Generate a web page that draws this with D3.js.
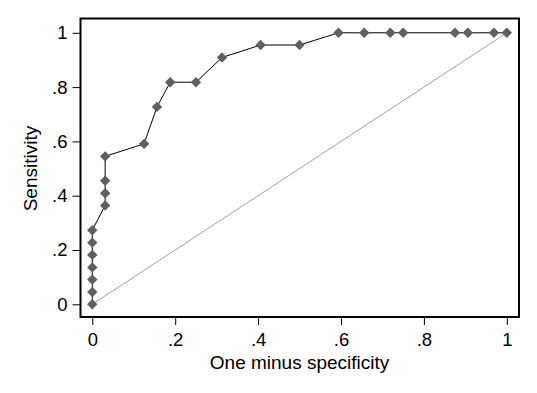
<!DOCTYPE html>
<html>
<head>
<meta charset="utf-8">
<script src="https://cdn.jsdelivr.net/npm/d3@7"></script>
<style>
  html, body { margin: 0; padding: 0; background: #fff; }
  text { font-family: "Liberation Sans", Arial, sans-serif; fill: #000; }
</style>
</head>
<body>
<svg id="chart" width="537" height="393"></svg>
<script>
// ROC points: one minus specificity vs sensitivity
const fpr = [0, 0, 0, 0, 0, 0, 0, 0.031, 0.031, 0.031, 0.031, 0.125, 0.156, 0.188, 0.25, 0.313,
  0.406, 0.5, 0.594, 0.656, 0.719, 0.75, 0.875, 0.906, 0.969, 1];
const tpr = [0, 0.045, 0.091, 0.136, 0.182, 0.227, 0.273, 0.364, 0.409, 0.455, 0.545, 0.591, 0.727,
  0.818, 0.818, 0.909, 0.955, 0.955, 1, 1, 1, 1, 1, 1, 1, 1];

const tickValues = [0, 0.2, 0.4, 0.6, 0.8, 1];
const tickLabels = ["0", ".2", ".4", ".6", ".8", "1"];

const svg = d3.select("#chart");
const frame = { left: 80.5, top: 18.5, right: 519, bottom: 317 };

const x = d3.scaleLinear().domain([0, 1]).range([92.3, 506.8]);
const y = d3.scaleLinear().domain([0, 1]).range([304.3, 32.8]);

const fmt = (d, i) => tickLabels[i];

// axes sit on the frame edges
svg.append("g")
  .attr("transform", `translate(${frame.left},0)`)
  .call(d3.axisLeft(y).tickValues(tickValues).tickFormat(fmt).tickSize(8).tickPadding(5))
  .call(g => g.select(".domain").remove())
  .call(g => g.selectAll("line").attr("stroke", "#000"))
  .selectAll("text")
  .attr("font-size", "18.5px")
  .attr("font-family", "Liberation Sans, Arial, sans-serif")
  .attr("fill", "#000");

svg.append("g")
  .attr("transform", `translate(0,${frame.bottom})`)
  .call(d3.axisBottom(x).tickValues(tickValues).tickFormat(fmt).tickSize(8).tickPadding(8))
  .call(g => g.select(".domain").remove())
  .call(g => g.selectAll("line").attr("stroke", "#000"))
  .selectAll("text")
  .attr("font-size", "18.5px")
  .attr("font-family", "Liberation Sans, Arial, sans-serif")
  .attr("fill", "#000");

svg.append("rect")
  .attr("x", frame.left)
  .attr("y", frame.top)
  .attr("width", frame.right - frame.left)
  .attr("height", frame.bottom - frame.top)
  .attr("fill", "none")
  .attr("stroke", "#000")
  .attr("stroke-width", 2);

// chance diagonal
svg.append("line")
  .attr("x1", x(0)).attr("y1", y(0))
  .attr("x2", x(1)).attr("y2", y(1))
  .attr("stroke", "#a0a0a0")
  .attr("stroke-width", 1);

const pts = fpr.map((d, i) => [d, tpr[i]]);

svg.append("path")
  .datum(pts)
  .attr("fill", "none")
  .attr("stroke", "#000")
  .attr("stroke-width", 1)
  .attr("d", d3.line().x(d => x(d[0])).y(d => y(d[1])));

svg.append("g").selectAll("path")
  .data(pts)
  .join("path")
  .attr("transform", d => `translate(${x(d[0])},${y(d[1])})`)
  .attr("d", "M0,-5.2L5.2,0L0,5.2L-5.2,0Z")
  .attr("fill", "#5f5f5f");

svg.append("text")
  .attr("x", (x(0) + x(1)) / 2)
  .attr("y", 369)
  .attr("text-anchor", "middle")
  .attr("font-size", "19px")
  .text("One minus specificity");

svg.append("text")
  .attr("transform", `translate(37,${(y(0) + y(1)) / 2}) rotate(-90)`)
  .attr("text-anchor", "middle")
  .attr("font-size", "19px")
  .text("Sensitivity");
</script>
</body>
</html>
